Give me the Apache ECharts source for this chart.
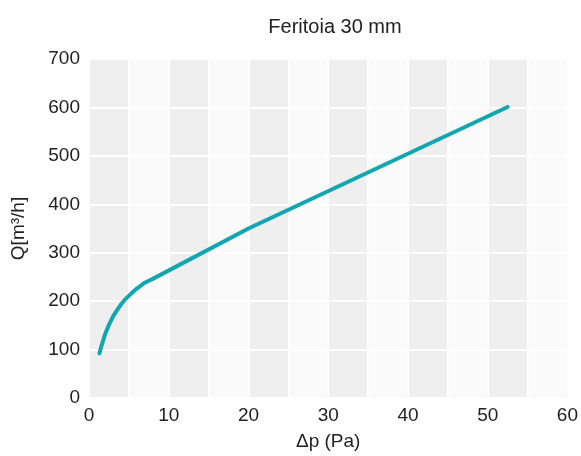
<!DOCTYPE html>
<html>
<head>
<meta charset="utf-8">
<script src="https://cdn.jsdelivr.net/npm/echarts@6/dist/echarts.min.js"></script>
<style>
  html, body { margin: 0; padding: 0; background: #fff; }
  #main { width: 581px; height: 456px; }
</style>
</head>
<body>
<div id="main"></div>
<script>
// Δp (Pa) / Q (m3/h)
var dp = [1.3, 1.5, 2, 2.5, 3, 3.5, 4, 4.5, 5, 5.5, 6, 6.5, 7, 7.5, 8, 20, 52.5];
var q = [92, 104, 131, 151, 168, 181, 193, 203, 211, 219, 226, 232, 238, 242, 246, 350, 601];

var points = [];
for (var i = 0; i < dp.length; i++) {
    points.push([dp[i], q[i]]);
}

var font = 'Liberation Sans';
var chart = echarts.init(document.getElementById('main'));
var option = {
    backgroundColor: '#fff',
    textStyle: { fontFamily: font },
    title: {
        text: 'Feritoia 30 mm',
        left: 330,
        textAlign: 'center',
        top: 12,
        textStyle: { fontSize: 20, fontWeight: 'normal', color: '#222', fontFamily: font }
    },
    grid: { left: 89, right: 13, top: 59, bottom: 53 },
    xAxis: {
        type: 'value',
        min: 0,
        max: 60,
        interval: 5,
        z: 0,
        name: 'Δp (Pa)',
        nameLocation: 'middle',
        nameGap: 34,
        nameTextStyle: { fontSize: 19, color: '#222', fontFamily: font },
        axisLine: { show: false },
        axisTick: { show: false },
        axisLabel: {
            fontSize: 19,
            color: '#222',
            fontFamily: font,
            margin: 8,
            formatter: function (v) {
                return v % 10 === 0 ? String(v) : '';
            }
        },
        splitLine: { show: true, lineStyle: { color: '#fff', width: 2 } },
        splitArea: { show: true, areaStyle: { color: ['#efefef', '#fafafa'] } }
    },
    yAxis: {
        type: 'value',
        min: 0,
        max: 700,
        interval: 100,
        z: 1,
        name: 'Q[m³/h]',
        nameLocation: 'middle',
        nameGap: 61,
        nameRotate: 90,
        nameTextStyle: { fontSize: 19, color: '#222', fontFamily: font },
        axisLine: { show: false },
        axisTick: { show: false },
        axisLabel: { fontSize: 19, color: '#222', fontFamily: font, margin: 9 },
        splitLine: { show: true, lineStyle: { color: '#fff', width: 2 } },
        splitArea: { show: false }
    },
    series: [{
        type: 'line',
        data: points,
        smooth: false,
        symbol: 'none',
        lineStyle: { color: '#12a6b1', width: 4, cap: 'round', join: 'round' },
        z: 5
    }]
};
chart.setOption(option);
</script>
</body>
</html>
